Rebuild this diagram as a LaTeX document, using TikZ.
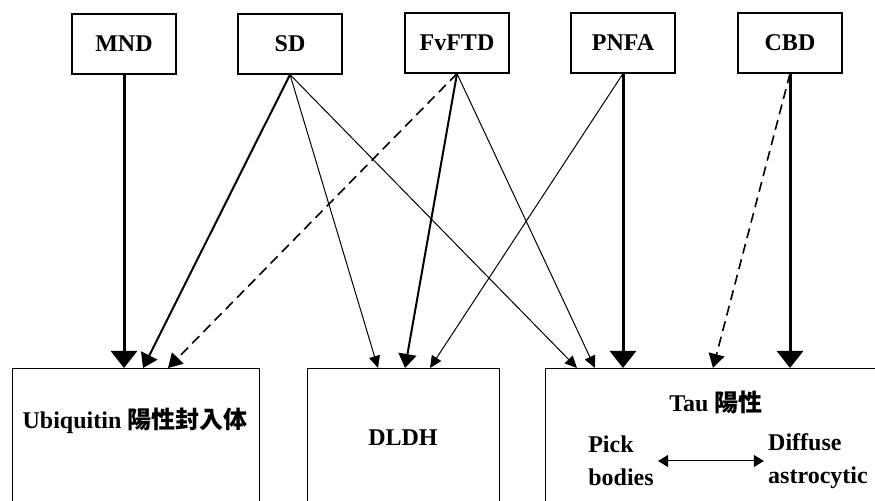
\documentclass[tikz,border=0pt]{standalone}
\usepackage{fontspec}
\setmainfont{Liberation Serif}
\newfontfamily\cjk{Noto Sans CJK JP}
\usetikzlibrary{arrows.meta,calc}

\tikzset{
  disease/.style={draw,line width=0.6pt,minimum width=52pt,minimum height=30pt,inner sep=0pt,
    font=\fontsize{12}{13}\selectfont\bfseries},
  finding/.style={draw,line width=0.7pt,anchor=north west,minimum height=80pt,inner sep=0pt},
  lbl/.style={font=\fontsize{12}{16.5}\selectfont\bfseries,inner sep=2pt},
  strong/.style={line width=1.5pt,-{Triangle[length=8.5pt,width=13pt]}},
  medium/.style={line width=1pt,-{Triangle[length=7pt,width=9pt]}},
  weak/.style={line width=0.5pt,-{Triangle[length=6pt,width=5.5pt]}},
  possible/.style={line width=0.8pt,dash pattern=on 5pt off 3pt,-{Triangle[length=7pt,width=8pt]}},
}

\begin{document}
\begin{tikzpicture}[x=0.5pt,y=-0.5pt]
  \useasboundingbox (0,0) rectangle (875,501);
  \clip (0,0) rectangle (875,501);

  % clinical syndromes
  \node[disease] (mnd) at (124,44) {MND};
  \node[disease] (sd) at (290,44) {SD};
  \node[disease] (fvftd) at (457,43) {FvFTD};
  \node[disease] (pnfa) at (623,43) {PNFA};
  \node[disease] (cbd) at (790,43) {CBD};

  % pathology
  \node[finding,minimum width=123.5pt] (ubq) at (12,368) {};
  \node[finding,minimum width=96pt] (dldh) at (307,368) {};
  \node[finding,minimum width=180pt] (tau) at (545,368) {};

  \node[lbl] (ubqtxt) at (135,421) {Ubiquitin {\cjk 陽性封入体}};
  \node[lbl] (dldhtxt) at (403,438) {DLDH};
  \node[lbl] (tautxt) at (716,402) {Tau {\cjk 陽性}};
  \node[lbl,align=left] (pick) at (621,461) {Pick\\bodies};
  \node[lbl,align=left] (diffuse) at (818,461) {Diffuse\\astrocytic};
  \draw[line width=0.5pt,{Triangle[length=5pt,width=6pt]}-{Triangle[length=5pt,width=6pt]}] (pick) -- (diffuse);

  % links
  \draw[strong] (mnd.south) -- (mnd.south |- ubq.north);
  \draw[medium] (sd.south) -- ($(ubq.north west)+(131,0)$);
  \draw[possible] (fvftd.south) -- ($(ubq.north west)+(156,0)$);
  \draw[weak] (sd.south) -- ($(dldh.north west)+(71,0)$);
  \draw[medium] (fvftd.south) -- ($(dldh.north west)+(98,0)$);
  \draw[weak] (pnfa.south) -- ($(dldh.north west)+(123,0)$);
  \draw[weak] (sd.south) -- ($(tau.north west)+(32,0)$);
  \draw[weak] (fvftd.south) -- ($(tau.north west)+(50,0)$);
  \draw[strong] (pnfa.south) -- (pnfa.south |- tau.north);
  \draw[possible] (cbd.south) -- ($(tau.north west)+(168,0)$);
  \draw[strong] (cbd.south) -- (cbd.south |- tau.north);
\end{tikzpicture}
\end{document}
